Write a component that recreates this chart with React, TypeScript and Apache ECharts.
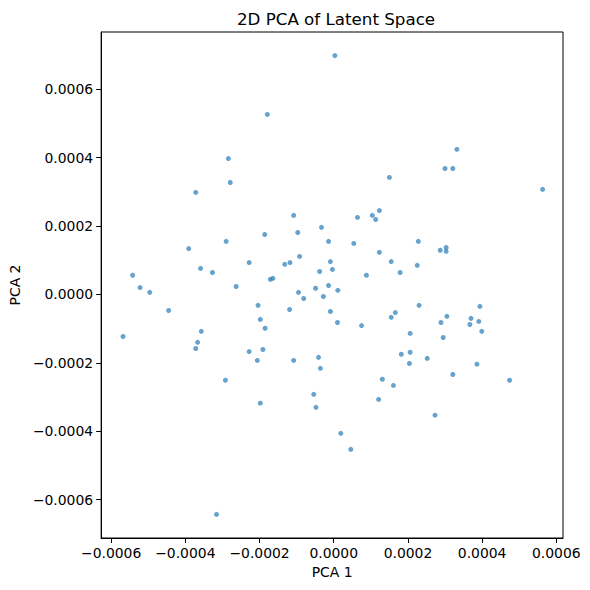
import React, { useEffect, useRef } from "react";
import * as echarts from "echarts";

const pcaX: number[] = [
  0.000003, -0.000179, -0.000284, -0.000279, -0.000372,
  0.000332, 0.0003, 0.000321, 0.00015, 0.000563,
  -0.000108, -0.000033, -0.000186, -0.000097, -0.000014, -0.00029, -0.000391, -0.000092, -0.000009, -0.000228,
  -0.000132, -0.000118, -0.0000035, -0.000038, -0.000359, -0.000327, -0.000542, -0.000522, -0.000496, -0.000171,
  -0.000164, -0.000263, -0.000049, -0.000014, 0.000011, -0.000095, -0.000081, -0.000028, -0.000445, -0.000204,
  -0.000119, -0.000009, -0.000198, 0.00001, -0.000185, -0.000357, -0.000568, -0.000367, -0.000372, -0.000228,
  -0.000191, -0.000206, -0.000108, -0.000041, -0.000036,
  0.000123, 0.000064, 0.000104, 0.000113, 0.000054, 0.000228, 0.000287, 0.000303, 0.000303, 0.000123,
  0.000155, 0.000225, 0.000179, 0.000088, 0.00023, 0.000394, 0.000166, 0.000155, 0.000305, 0.00037,
  0.000289, 0.000367, 0.000391, 0.000075, 0.000399, 0.000206, 0.000295, 0.000182, 0.000206, 0.000252,
  0.000204, 0.000386, 0.000321,
  -0.000292, -0.000198, -0.000054, -0.000048, 0.000019, -0.000316,
  0.000131, 0.000161, 0.000121, 0.000474, 0.000273, 0.000046,
];

const pcaY: number[] = [
  0.000698, 0.000526, 0.000397, 0.000327, 0.000298,
  0.000424, 0.000368, 0.000368, 0.000342, 0.000307,
  0.000231, 0.000196, 0.000175, 0.000181, 0.000155, 0.000155, 0.000134, 0.000111, 0.000096, 0.000093,
  0.000088, 0.000093, 0.000073, 0.000067, 0.000076, 0.000064, 0.000056, 0.00002, 0.000006, 0.000044,
  0.000047, 0.000023, 0.000018, 0.000026, 0.000012, 0.000006, -0.000012, -0.000006, -0.000047, -0.000032,
  -0.000044, -0.00005, -0.000073, -0.000082, -0.000099, -0.000108, -0.000123, -0.00014, -0.000158, -0.000167,
  -0.000161, -0.000193, -0.000193, -0.000184, -0.000216,
  0.000245, 0.000225, 0.000231, 0.000219, 0.000149, 0.000155, 0.000129, 0.000137, 0.000126, 0.000123,
  0.000096, 0.000085, 0.000064, 0.000056, -0.000032, -0.000035, -0.000053, -0.000067, -0.000064, -0.00007,
  -0.000082, -0.000088, -0.000079, -0.000091, -0.000108, -0.000114, -0.000126, -0.000175, -0.000169, -0.000187,
  -0.000202, -0.000204, -0.000234,
  -0.000251, -0.000318, -0.000292, -0.00033, -0.000406, -0.000643,
  -0.000248, -0.000266, -0.000307, -0.000251, -0.000353, -0.000453,
];

const xTicks: number[] = [-0.0006, -0.0004, -0.0002, 0, 0.0002, 0.0004, 0.0006];
const yTicks: number[] = [-0.0006, -0.0004, -0.0002, 0, 0.0002, 0.0004, 0.0006];

const fmt = (v: number) => {
  const s = Math.abs(v).toFixed(4);
  return (v < -1e-12 ? "\u2212" : "") + s;
};

export default function App() {
  const ref = useRef<HTMLDivElement>(null);
  useEffect(() => {
    if (!ref.current) return;
    const chart = echarts.init(ref.current, null, { renderer: "svg" });
    const font = "DejaVu Sans";
    const pts = pcaX.map((x, i) => [x, pcaY[i]]);
    chart.setOption({
      animation: false,
      backgroundColor: "#fff",
      textStyle: { fontFamily: font },
      title: {
        text: "2D PCA of Latent Space",
        left: 331,
        top: 5,
        textAlign: "center",
        textStyle: { fontFamily: font, fontSize: 16.7, fontWeight: "normal", color: "#000" },
      },
      grid: {
        left: 98.5,
        right: 27,
        top: 32,
        bottom: 52,
        show: true,
        borderColor: "#000",
        borderWidth: 1,
        backgroundColor: "transparent",
      },
      xAxis: {
        type: "value",
        min: -0.000627,
        max: 0.000618,
        name: "PCA 1",
        nameLocation: "middle",
        nameGap: 27,
        nameTextStyle: { fontFamily: font, fontSize: 13.9, color: "#000" },
        splitLine: { show: false },
        axisLine: { show: true, onZero: false, lineStyle: { color: "#000", width: 1 } },
        axisTick: { show: true, length: 5, lineStyle: { color: "#000" }, customValues: xTicks },
        axisLabel: {
          show: true,
          margin: 8,
          fontFamily: font,
          fontSize: 13.9,
          color: "#000",
          customValues: xTicks,
          formatter: (v: number) => fmt(v),
        },
      },
      yAxis: {
        type: "value",
        min: -0.000712,
        max: 0.000767,
        name: "PCA 2",
        nameLocation: "middle",
        nameGap: 75,
        nameTextStyle: { fontFamily: font, fontSize: 13.9, color: "#000" },
        splitLine: { show: false },
        axisLine: { show: true, onZero: false, lineStyle: { color: "#000", width: 1 } },
        axisTick: { show: true, length: 5, lineStyle: { color: "#000" }, customValues: yTicks },
        axisLabel: {
          show: true,
          margin: 8,
          fontFamily: font,
          fontSize: 13.9,
          color: "#000",
          customValues: yTicks,
          formatter: (v: number) => fmt(v),
        },
      },
      series: [
        {
          type: "scatter",
          data: pts,
          symbolSize: 5,
          itemStyle: { color: "rgba(31,119,180,0.85)" },
        },
      ],
    });
    return () => chart.dispose();
  }, []);
  return (
    <div
      ref={ref}
      style={{ position: "fixed", left: 0, top: 0, width: 590, height: 590 }}
    />
  );
}
